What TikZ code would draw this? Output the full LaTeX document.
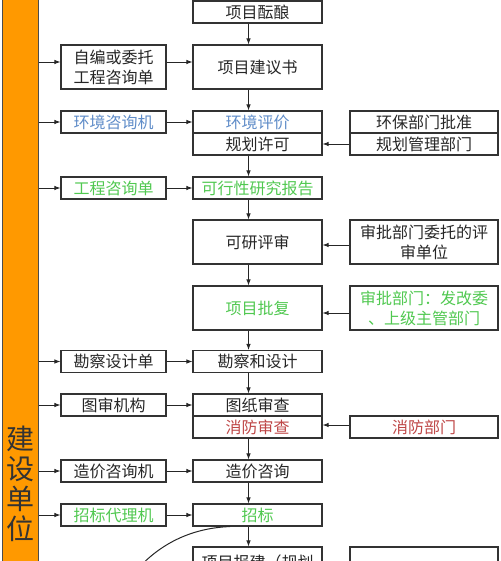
\documentclass[tikz,border=0pt]{standalone}
\usepackage{fontspec}
\setmainfont{Noto Sans CJK SC}
\usetikzlibrary{arrows.meta,calc}
\definecolor{barorange}{RGB}{255,153,0}
\definecolor{txtblue}{RGB}{95,140,200}
\definecolor{txtgreen}{RGB}{80,200,80}
\definecolor{txtred}{RGB}{190,70,70}
\begin{document}
\begin{tikzpicture}[x=1pt,y=-1pt,
  box/.style={draw=black!80, line width=1.1pt, rectangle, inner sep=0pt, align=center,
    font=\fontsize{16}{20}\selectfont, text=black!85},
  mbox/.style={box, minimum width=129pt, minimum height=22pt},
  lbox/.style={box, minimum width=105pt, minimum height=22pt},
  rbox/.style={box, minimum width=148pt, minimum height=22pt},
  tall/.style={minimum height=44pt},
  arr/.style={-{Latex[length=6pt,width=4.5pt]}, line width=0.9pt, draw=black!85}]
\useasboundingbox (0,0) rectangle (500,561);
\clip (0,0) rectangle (500,561);

% orange bar
\node[draw=black!70, line width=1pt, fill=barorange, minimum width=36pt, minimum height=620pt, inner sep=0pt] (bar) at (20,290) {};
\node[align=center, font=\fontsize{28}{30}\selectfont, text=black!80] (barlabel) at (20,484) {建\\设\\单\\位};

% main column
\node[mbox] (m1) at (257.5,12) {项目酝酿};
\node[mbox,tall] (m2) at (257.5,67) {项目建议书};
\node[mbox,text=txtblue] (m3a) at (257.5,122) {环境评价};
\node[mbox] (m3b) at (257.5,144) {规划许可};
\node[mbox,text=txtgreen] (m4) at (257.5,188) {可行性研究报告};
\node[mbox,tall] (m5) at (257.5,242) {可研评审};
\node[mbox,tall,text=txtgreen] (m6) at (257.5,308) {项目批复};
\node[mbox] (m7) at (257.5,361.5) {勘察和设计};
\node[mbox] (m8a) at (257.5,405) {图纸审查};
\node[mbox,text=txtred] (m8b) at (257.5,427) {消防审查};
\node[mbox] (m9) at (257.5,471) {造价咨询};
\node[mbox,text=txtgreen] (m10) at (257.5,515) {招标};
\node[mbox,tall] (m11) at (257.5,569) {};
\node[font=\fontsize{16}{20}\selectfont, text=black!85, inner sep=0pt] (m11t) at (257.5,562) {项目报建（规划};

% left column
\node[lbox,tall] (l1) at (113.5,67) {自编或委托\\工程咨询单};
\node[lbox,text=txtblue] (l2) at (113.5,122) {环境咨询机};
\node[lbox,text=txtgreen] (l3) at (113.5,188) {工程咨询单};
\node[lbox] (l4) at (113.5,361.5) {勘察设计单};
\node[lbox] (l5) at (113.5,405) {图审机构};
\node[lbox] (l6) at (113.5,471) {造价咨询机};
\node[lbox,text=txtgreen] (l7) at (113.5,515) {招标代理机};

% right column
\node[rbox] (r1a) at (424,122) {环保部门批准};
\node[rbox] (r1b) at (424,144) {规划管理部门};
\node[rbox,tall] (r2) at (424,242) {审批部门委托的评\\审单位};
\node[rbox,tall,text=txtgreen] (r3) at (424,308) {审批部门：发改委\\、上级主管部门};
\node[rbox,text=txtred] (r4) at (424,427) {消防部门};
\node[rbox,tall] (r5) at (424,569) {};

% helper coordinates
\coordinate (l1w) at ([yshift=5pt]l1.west);
\coordinate (l1e) at ([yshift=5pt]l1.east);
\coordinate (m2w) at ([yshift=5pt]m2.west);

% bar -> left boxes
\draw[arr] (bar.east |- l1w) -- (l1w);
\foreach \n in {l2,l3,l4,l5,l6,l7} {
  \draw[arr] (bar.east |- \n.west) -- (\n.west);
}
% left -> main
\draw[arr] (l1e) -- (m2w);
\draw[arr] (l2.east) -- (m3a.west);
\draw[arr] (l3.east) -- (m4.west);
\draw[arr] (l4.east) -- (m7.west);
\draw[arr] (l5.east) -- (m8a.west);
\draw[arr] (l6.east) -- (m9.west);
\draw[arr] (l7.east) -- (m10.west);

% main vertical
\foreach \a/\b in {m1/m2,m2/m3a,m3b/m4,m4/m5,m5/m6,m6/m7,m7/m8a,m8b/m9,m9/m10,m10/m11} {
  \draw[arr] ([xshift=-9pt]\a.south) -- ([xshift=-9pt]\b.north);
}

% right -> main
\draw[arr] (r1b.west) -- (m3b.east);
\draw[arr] ([yshift=-3pt]r2.west) -- ([yshift=-3pt]m5.east);
\draw[arr] ([yshift=-5pt]r3.west) -- ([yshift=-5pt]m6.east);
\draw[arr] ([yshift=2pt]r4.west) -- ([yshift=2pt]m8b.east);

% curve
\coordinate (cstart) at ($(m10.south west)!0.29!(m10.south east)$);
\coordinate (cend) at (135,572);
\draw[line width=1pt, black!85] (cstart) .. controls (190,528) and (158,545) .. (cend);
\end{tikzpicture}
\end{document}
